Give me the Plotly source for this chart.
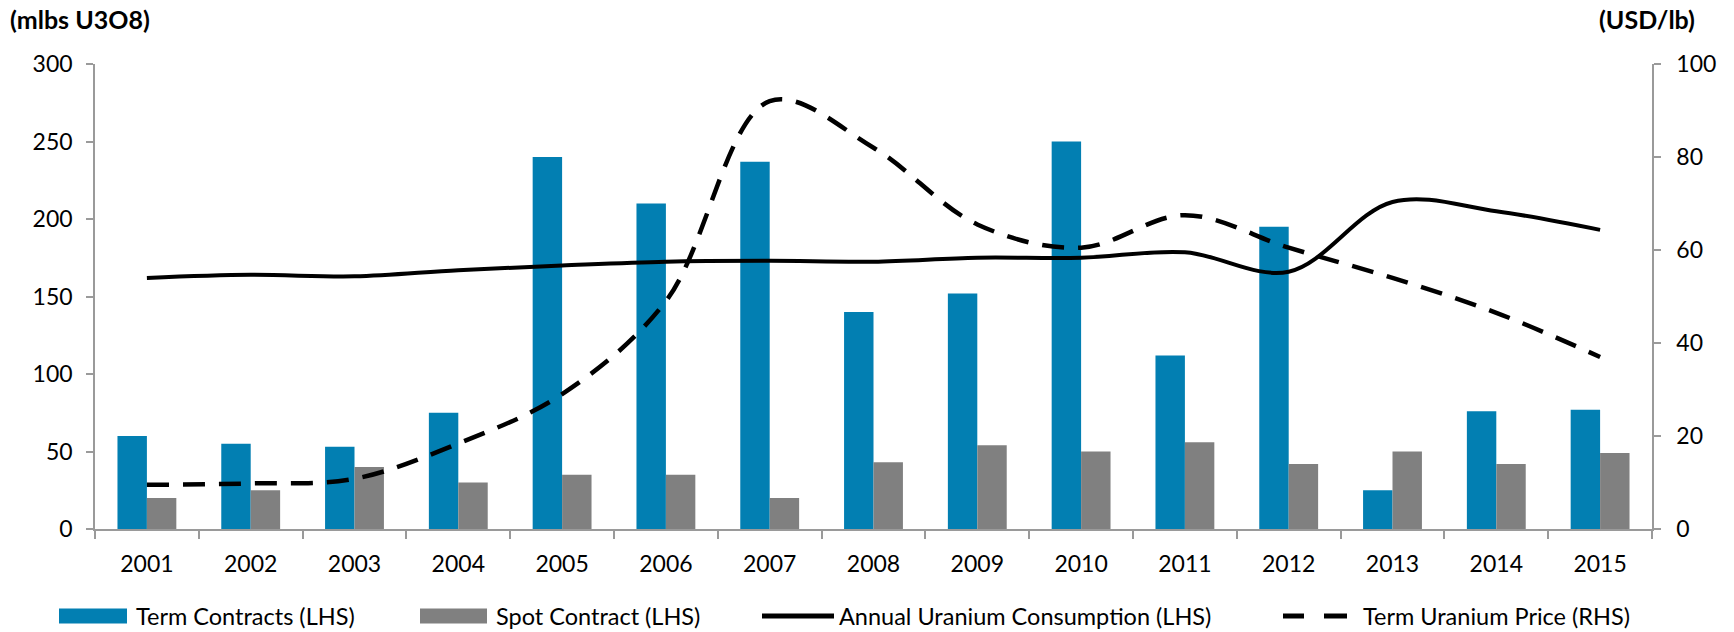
import plotly.graph_objects as go

years = ["2001", "2002", "2003", "2004", "2005", "2006", "2007", "2008",
         "2009", "2010", "2011", "2012", "2013", "2014", "2015"]
term_contracts = [60, 55, 53, 75, 240, 210, 237, 140, 152, 250, 112, 195, 25, 76, 77]
spot_contract = [20, 25, 40, 30, 35, 35, 20, 43, 54, 50, 56, 42, 50, 42, 49]
consumption = [162, 164, 163, 167, 170, 172.5, 173, 172.5, 175, 175, 178.5, 166, 211, 205, 193]
term_price = [9.5, 9.8, 10.8, 18.4, 29, 49, 92, 82, 65.5, 60.5, 67.5, 60.5, 54, 46.5, 37]

left_ticks = [0, 50, 100, 150, 200, 250, 300]
right_ticks = [0, 20, 40, 60, 80, 100]

names = ["Term Contracts (LHS)", "Spot Contract (LHS)",
         "Annual Uranium Consumption (LHS)", "Term Uranium Price (RHS)"]

BLUE = "#027FB2"
GREY = "#808080"
AXIS = "#9a9a9a"
FONT = "Lato"

W, H = 1734, 632
L, R, T, B = 95, 82, 64, 103
PW, PH = W - L - R, H - T - B


def px(x):
    return (x - L) / PW


def py(y):
    return (H - B - y) / PH


fig = go.Figure()
fig.add_trace(go.Bar(x=years, y=term_contracts, name=names[0], marker_color=BLUE,
                     marker_line_width=0, showlegend=False))
fig.add_trace(go.Bar(x=years, y=spot_contract, name=names[1], marker_color=GREY,
                     marker_line_width=0, showlegend=False))
fig.add_trace(go.Scatter(x=years, y=consumption, name=names[2], mode="lines",
                         line=dict(color="black", width=4, shape="spline", smoothing=1),
                         showlegend=False))
fig.add_trace(go.Scatter(x=years, y=term_price, name=names[3], mode="lines", yaxis="y2",
                         line=dict(color="black", width=4.5, shape="spline", smoothing=1,
                                   dash="22px,14px"),
                         showlegend=False))

shapes = []
annotations = []
# custom legend
LEG_Y = 616
shapes.append(dict(type="rect", xref="paper", yref="paper", x0=px(59), x1=px(127),
                   y0=py(LEG_Y + 7.5), y1=py(LEG_Y - 7.5), fillcolor=BLUE, line_width=0))
shapes.append(dict(type="rect", xref="paper", yref="paper", x0=px(420), x1=px(487),
                   y0=py(LEG_Y + 7.5), y1=py(LEG_Y - 7.5), fillcolor=GREY, line_width=0))
shapes.append(dict(type="line", xref="paper", yref="paper", x0=px(762), x1=px(834),
                   y0=py(LEG_Y), y1=py(LEG_Y), line=dict(color="black", width=5)))
for a, b in [(1283, 1304), (1324, 1347)]:
    shapes.append(dict(type="line", xref="paper", yref="paper", x0=px(a), x1=px(b),
                       y0=py(LEG_Y), y1=py(LEG_Y), line=dict(color="black", width=5)))
for xs, name in zip([135, 495, 838, 1362], names):
    annotations.append(dict(text=name, xref="paper", yref="paper", x=px(xs), y=py(LEG_Y),
                            xanchor="left", yanchor="middle", showarrow=False, borderpad=0,
                            font=dict(family=FONT, size=23.5, color="black")))
annotations.append(dict(text="<b>(mlbs U3O8)</b>", xref="paper", yref="paper",
                        x=px(8), y=py(19), xanchor="left", yanchor="middle",
                        showarrow=False, font=dict(family=FONT, size=25, color="black")))
annotations.append(dict(text="<b>(USD/lb)</b>", xref="paper", yref="paper",
                        x=px(1697), y=py(19), xanchor="right", yanchor="middle",
                        showarrow=False, font=dict(family=FONT, size=25, color="black")))

fig.update_layout(
    width=W, height=H,
    margin=dict(l=L, r=R, t=T, b=B),
    paper_bgcolor="white", plot_bgcolor="white",
    barmode="group", bargap=0.433, bargroupgap=0,
    font=dict(family=FONT, size=23, color="black"),
    showlegend=False,
    shapes=shapes, annotations=annotations,
    xaxis=dict(type="category", tickson="boundaries", ticks="outside", ticklen=8,
               tickcolor=AXIS, tickwidth=1.5, showline=True, linecolor=AXIS, linewidth=1.5,
               showgrid=False, ticklabelstandoff=14, tickfont=dict(family=FONT, size=23)),
    yaxis=dict(range=[0, 300], tickvals=left_ticks, ticks="outside", ticklen=7,
               tickcolor=AXIS, tickwidth=1.5, showline=True, linecolor=AXIS, linewidth=1.5,
               showgrid=False, zeroline=False, ticklabelstandoff=9,
               tickfont=dict(family=FONT, size=23)),
    yaxis2=dict(range=[0, 100], tickvals=right_ticks, overlaying="y", side="right",
                ticks="outside", ticklen=7, tickcolor=AXIS, tickwidth=1.5, showline=True,
                linecolor=AXIS, linewidth=1.5, showgrid=False, zeroline=False,
                ticklabelstandoff=11, tickfont=dict(family=FONT, size=23)),
)

fig.write_html("out.html",
               config={"displayModeBar": False},
               post_script="document.body.style.margin='0';"
                           "document.body.style.overflow='hidden';")
